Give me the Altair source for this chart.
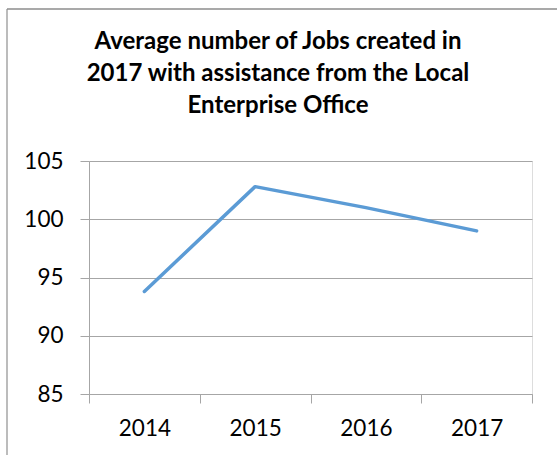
import altair as alt
import pandas as pd

years = ["2014", "2015", "2016", "2017"]
jobs = [93.8, 102.8, 101.0, 99.0]
y_ticks = [85, 90, 95, 100, 105]
title_lines = ["Average number of Jobs created in",
               "2017 with assistance from the Local",
               "Enterprise Office"]

df = pd.DataFrame({"year": years, "jobs": jobs})

W = 443
H = 233
PAD_L, PAD_T = 89, 161
GRID = "#a6a6a6"
FONT = "Lato"

line = alt.Chart(df).mark_line(
    color="#5B9BD5", strokeWidth=3.5, strokeCap="round", strokeJoin="round"
).encode(
    x=alt.X("year:N", bandPosition=0.5,
            scale=alt.Scale(type="band", paddingInner=0, paddingOuter=0),
            axis=alt.Axis(title=None, labelAngle=0, tickBand="extent", grid=False,
                          domainColor=GRID, tickColor=GRID, tickSize=9,
                          labelFont=FONT, labelFontSize=22.5, labelColor="#000000",
                          labelPadding=14)),
    y=alt.Y("jobs:Q", scale=alt.Scale(domain=[85, 105], nice=False, zero=False),
            axis=alt.Axis(title=None, values=y_ticks, grid=True, gridColor=GRID,
                          domainColor=GRID, tickColor=GRID, tickSize=9,
                          labelFont=FONT, labelFontSize=22.5, labelColor="#000000",
                          labelPadding=17)),
)

frame_df = pd.DataFrame({"k": [0]})
left_border = alt.Chart(frame_df).mark_rule(color=GRID, strokeWidth=1.5).encode(
    x=alt.value(7 - PAD_L), y=alt.value(9 - PAD_T), y2=alt.value(H + 200))
top_border = alt.Chart(frame_df).mark_rule(color="#8c8c8c", strokeWidth=1.5).encode(
    y=alt.value(9 - PAD_T), x=alt.value(7 - PAD_L), x2=alt.value(W + 200))

title = alt.Chart(frame_df).mark_text(
    font=FONT, fontSize=24, fontWeight="bold", color="#000000",
    align="center", baseline="top", lineHeight=32
).encode(
    text=alt.value(title_lines),
    x=alt.value(278 - PAD_L), y=alt.value(30 - PAD_T))

chart = alt.layer(left_border, top_border, line, title).properties(
    width=W, height=H,
    autosize=alt.AutoSizeParams(type="none"),
    padding={"left": PAD_L, "top": PAD_T, "right": 557 - PAD_L - W, "bottom": 455 - PAD_T - H},
).configure_view(stroke=None).configure(background="#ffffff")

chart.save("out.html", embed_options={"renderer": "svg", "actions": False})
